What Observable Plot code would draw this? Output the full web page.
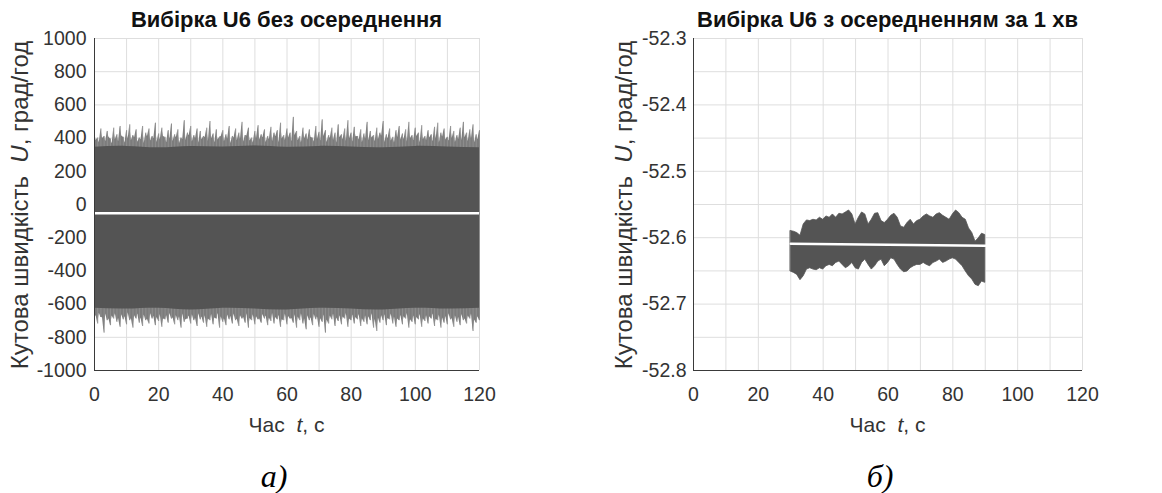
<!DOCTYPE html>
<html>
<head>
<meta charset="utf-8">
<script src="https://cdn.jsdelivr.net/npm/d3@7"></script>
<script src="https://cdn.jsdelivr.net/npm/@observablehq/plot@0.6"></script>
<style>
  html, body { margin: 0; padding: 0; background: #fff; }
  #wrap { display: flex; width: 1162px; height: 493px; overflow: hidden; }
  svg text { font-family: "Liberation Sans", Arial, sans-serif; }
</style>
</head>
<body>
<div id="wrap"></div>
<script>
// ---------- texts and ticks ----------
const titleA = "Вибірка U6 без осереднення";
const titleB = "Вибірка U6 з осередненням за 1 хв";
const xTicks = [0, 20, 40, 60, 80, 100, 120];
const xGrid = [0, 10, 20, 30, 40, 50, 60, 70, 80, 90, 100, 110, 120];
const yTicksA = [-1000, -800, -600, -400, -200, 0, 200, 400, 600, 800, 1000];
const yTicksB = [-52.8, -52.7, -52.6, -52.5, -52.4, -52.3];
const yGridB = [-52.8, -52.75, -52.7, -52.65, -52.6, -52.55, -52.5, -52.45, -52.4, -52.35, -52.3];

// ---------- Panel a: raw sample U6 ----------
// peaks at whole seconds (grad/h)
const upperA = [430,400,455,410,440,395,460,420,470,405,445,480,415,450,400,470,430,455,410,490,
  425,460,405,445,485,420,450,400,505,430,470,415,455,440,410,460,500,425,450,405,
  445,420,470,410,455,430,495,415,460,400,440,475,420,450,410,465,430,445,490,415,
  455,430,525,440,410,460,425,450,400,470,435,510,445,415,460,430,480,420,455,505,
  430,465,410,450,425,495,440,415,460,430,500,420,455,405,445,470,425,450,495,415,
  460,430,475,410,445,420,465,490,430,455,405,470,440,415,460,495,430,450,480,420,445];
const lowerA = [-690,-720,-680,-775,-700,-730,-690,-710,-740,-695,-725,-700,-745,-690,-715,-735,-700,-720,-690,-730,
  -705,-740,-695,-715,-690,-725,-700,-745,-710,-690,-720,-700,-735,-695,-715,-740,-700,-725,-690,-745,
  -710,-730,-695,-720,-700,-735,-690,-715,-745,-700,-725,-695,-715,-690,-730,-705,-720,-695,-740,-700,
  -725,-690,-715,-745,-700,-720,-755,-700,-730,-695,-740,-710,-775,-720,-695,-735,-705,-725,-690,-740,
  -700,-720,-695,-735,-710,-725,-700,-745,-765,-715,-700,-730,-695,-720,-740,-700,-725,-690,-745,-710,
  -725,-695,-740,-705,-720,-690,-735,-700,-745,-715,-725,-695,-740,-710,-730,-700,-720,-690,-765,-715,-700];
// values at half seconds (grad/h)
const midUpperA = [385,372,398,380,405,366,390,378,412,370,395,384,402,375,390,368,408,382,396,374,
  388,410,372,394,380,402,368,392,386,414,376,398,370,390,404,380,396,372,388,410,
  378,394,368,400,384,392,376,412,382,370,396,388,402,374,390,380,408,372,394,386,
  400,378,416,384,370,396,388,404,376,392,382,410,374,398,386,370,402,390,380,396,
  376,408,388,372,394,384,400,378,390,412,374,396,382,370,404,388,392,376,398,384,
  410,372,390,386,400,378,394,370,406,388,382,398,374,392,386,402,380,396,372,390];
const midLowerA = [-668,-655,-682,-660,-690,-672,-658,-686,-664,-676,-652,-688,-670,-660,-684,-666,-692,-658,-674,-680,
  -662,-690,-670,-656,-684,-668,-676,-660,-694,-672,-664,-686,-658,-678,-670,-690,-662,-684,-656,-676,
  -688,-666,-674,-660,-692,-670,-680,-658,-686,-664,-676,-690,-662,-672,-684,-656,-680,-668,-694,-660,
  -674,-686,-664,-678,-658,-690,-670,-682,-662,-676,-688,-666,-696,-672,-660,-684,-670,-678,-656,-690,
  -666,-680,-662,-688,-672,-676,-658,-692,-684,-670,-664,-686,-660,-678,-690,-668,-676,-656,-694,-672,
  -680,-662,-688,-670,-676,-660,-692,-666,-684,-674,-658,-688,-670,-680,-662,-690,-672,-660,-696,-676];
// dense core, every 10 s
const tCoreA = [0, 10, 20, 30, 40, 50, 60, 70, 80, 90, 100, 110, 120];
const coreHiA = [345, 350, 342, 350, 346, 352, 345, 350, 346, 342, 350, 346, 342];
const coreLoA = [-625, -630, -625, -635, -625, -630, -635, -625, -630, -635, -625, -630, -625];
const meanA = -52.6;

// ---------- Panel b: 1-min averaged sample ----------
const tStartB = 30;
const upperB = [-52.590,-52.591,-52.593,-52.597,-52.580,-52.574,-52.575,-52.573,-52.574,-52.570,
  -52.573,-52.568,-52.570,-52.565,-52.570,-52.564,-52.565,-52.562,-52.559,-52.565,
  -52.580,-52.570,-52.562,-52.565,-52.580,-52.573,-52.564,-52.563,-52.575,-52.578,
  -52.573,-52.567,-52.564,-52.570,-52.583,-52.585,-52.578,-52.573,-52.580,-52.575,
  -52.573,-52.568,-52.565,-52.568,-52.570,-52.565,-52.563,-52.567,-52.570,-52.573,
  -52.565,-52.559,-52.563,-52.570,-52.573,-52.586,-52.593,-52.606,-52.601,-52.594,-52.596];
const lowerB = [-52.651,-52.653,-52.656,-52.664,-52.658,-52.648,-52.646,-52.648,-52.649,-52.646,
  -52.648,-52.643,-52.641,-52.643,-52.638,-52.636,-52.641,-52.646,-52.643,-52.638,
  -52.646,-52.648,-52.638,-52.633,-52.641,-52.648,-52.643,-52.636,-52.633,-52.643,
  -52.638,-52.631,-52.633,-52.641,-52.648,-52.652,-52.651,-52.646,-52.643,-52.641,
  -52.641,-52.638,-52.641,-52.643,-52.638,-52.636,-52.633,-52.638,-52.636,-52.633,
  -52.631,-52.633,-52.638,-52.643,-52.651,-52.658,-52.663,-52.671,-52.673,-52.666,-52.668];
const tMeanB = [30, 90];
const meanB = [-52.609, -52.612];

// ---------- build tables ----------
const rawA = upperA.map((hi, i) => ({t: i, hi, lo: lowerA[i]}));
// zig-zag envelope: whole-second peaks alternating with half-second values
const zigA = [];
upperA.forEach((hi, i) => {
  zigA.push({t: i, hi, lo: lowerA[i]});
  if (i < midUpperA.length) zigA.push({t: i + 0.5, hi: midUpperA[i], lo: midLowerA[i]});
});
const coreA = tCoreA.map((t, i) => ({t, hi: coreHiA[i], lo: coreLoA[i]}));
const bandB = upperB.map((hi, i) => ({t: tStartB + i, hi, lo: lowerB[i]}));
const meanLineB = tMeanB.map((t, i) => ({t, v: meanB[i]}));

const W = 581, H = 493;
const fontFam = '"Liberation Sans", Arial, sans-serif';
const gridColor = "#dedede";
const axisColor = "#3a3a3a";
const bandColor = "#545454";

function decorate(svg, o) {
  const s = d3.select(svg);
  s.append("text").attr("x", o.cx).attr("y", 27)
    .attr("text-anchor", "middle").attr("font-size", 22).attr("font-weight", "bold")
    .attr("fill", "#111").text(o.title);
  const xl = s.append("text").attr("x", o.cx).attr("y", 432)
    .attr("text-anchor", "middle").attr("font-size", 21).attr("fill", "#333");
  xl.append("tspan").text("Час  ");
  xl.append("tspan").attr("font-style", "italic").text("t");
  xl.append("tspan").text(", с");
  const yl = s.append("text")
    .attr("transform", `translate(${o.yx},205) rotate(-90)`)
    .attr("text-anchor", "middle").attr("font-size", 24).attr("fill", "#333");
  yl.append("tspan").text("Кутова швидкість  ");
  yl.append("tspan").attr("font-style", "italic").text("U");
  yl.append("tspan").text(", град/год");
  s.append("text").attr("x", o.capx).attr("y", 487)
    .attr("text-anchor", "middle").attr("font-size", 32).attr("font-style", "italic")
    .attr("fill", "#000").style("font-family", '"Liberation Serif", "Times New Roman", serif')
    .text(o.caption);
}

const plotA = Plot.plot({
  width: W, height: H,
  marginLeft: 94, marginRight: 102, marginTop: 38, marginBottom: 123,
  style: {fontFamily: fontFam, fontSize: "19.5px", color: "#333", background: "#fff"},
  x: {domain: [0, 120], ticks: xTicks, tickSize: 0, tickPadding: 17, label: null, tickFormat: d => String(d)},
  y: {domain: [-1000, 1000], ticks: yTicksA, tickSize: 0, tickPadding: 8, label: null, tickFormat: d => String(d)},
  marks: [
    Plot.ruleX(xGrid, {stroke: gridColor}),
    Plot.ruleY(yTicksA, {stroke: gridColor}),
    Plot.areaY(zigA, {x: "t", y1: meanA, y2: "hi", fill: "#7c7c7c"}),
    Plot.areaY(zigA, {x: "t", y1: meanA, y2: "lo", fill: "#7c7c7c"}),
    Plot.ruleX(rawA, {x: "t", y1: meanA, y2: "hi", stroke: "#8e8e8e", strokeWidth: 1}),
    Plot.ruleX(rawA, {x: "t", y1: meanA, y2: "lo", stroke: "#8e8e8e", strokeWidth: 1}),
    Plot.areaY(zigA, {x: "t", y1: "lo", y2: "hi", fill: "#6a6a6a", fillOpacity: 0}),
    Plot.areaY(coreA, {x: "t", y1: "lo", y2: "hi", fill: bandColor, curve: "natural"}),
    Plot.ruleY([meanA], {stroke: "#fff", strokeWidth: 2.5}),
    Plot.ruleX([0], {stroke: axisColor}),
    Plot.ruleY([-1000], {stroke: axisColor})
  ]
});
decorate(plotA, {title: titleA, cx: 286.5, yx: 28, capx: 274, caption: "а)"});

const plotB = Plot.plot({
  width: W, height: H,
  marginLeft: 112, marginRight: 80, marginTop: 38, marginBottom: 123,
  style: {fontFamily: fontFam, fontSize: "19.5px", color: "#333", background: "#fff"},
  x: {domain: [0, 120], ticks: xTicks, tickSize: 0, tickPadding: 17, label: null, tickFormat: d => String(d)},
  y: {domain: [-52.8, -52.3], ticks: yTicksB, tickSize: 0, tickPadding: 7, label: null, tickFormat: d => d.toFixed(1)},
  marks: [
    Plot.ruleX(xGrid, {stroke: gridColor}),
    Plot.ruleY(yGridB, {stroke: gridColor}),
    Plot.areaY(bandB, {x: "t", y1: "lo", y2: "hi", fill: bandColor, stroke: bandColor, strokeWidth: 0.8}),
    Plot.line(meanLineB, {x: "t", y: "v", stroke: "#fff", strokeWidth: 2.5}),
    Plot.ruleX([0], {stroke: axisColor}),
    Plot.ruleY([-52.8], {stroke: axisColor})
  ]
});
decorate(plotB, {title: titleB, cx: 306.5, yx: 51, capx: 299, caption: "б)"});

document.getElementById("wrap").append(plotA, plotB);
</script>
</body>
</html>
